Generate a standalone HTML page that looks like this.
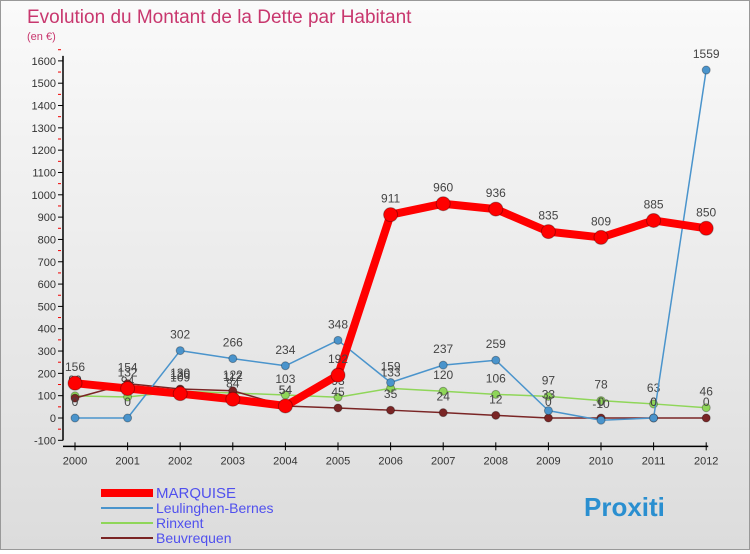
<!DOCTYPE html>
<html><head><meta charset="utf-8"><style>
body{margin:0;width:750px;height:550px;overflow:hidden;font-family:"Liberation Sans",sans-serif}
#wrap{position:relative;width:748px;height:548px;border:1px solid #999;background:linear-gradient(#fafafa,#dcdcdc)}
</style></head><body>
<div id="wrap">
<svg id="c" width="748" height="548" xmlns="http://www.w3.org/2000/svg">
<text x="26" y="22" font-size="19" fill="#c8376e">Evolution du Montant de la Dette par Habitant</text>
<text x="26" y="39" font-size="11" fill="#c8376e">(en €)</text>
</svg>
</div>
<script>
const years=["2000","2001","2002","2003","2004","2005","2006","2007","2008","2009","2010","2011","2012"];
const yTicks=[-100,0,100,200,300,400,500,600,700,800,900,1000,1100,1200,1300,1400,1500,1600];
const marquise=[156,132,109,84,54,192,911,960,936,835,809,885,850];
const leulinghen=[0,0,302,266,234,348,159,237,259,33,-10,0,1559];
const rinxent=[99,94,120,112,103,93,133,120,106,97,78,63,46];
const beuvrequen=[89,154,130,122,54,45,35,24,12,0,0,0,0];
const svg=document.getElementById('c');
const NS='http://www.w3.org/2000/svg';
const X=i=>74+i*52.6, Y=v=>417-v*0.2232;
function mk(t,a,p){const e=document.createElementNS(NS,t);for(const k in a)e.setAttribute(k,a[k]);(p||svg).appendChild(e);return e;}
let ax=mk('line',{x1:62,y1:Y(-100),x2:62,y2:Y(1600)-5,stroke:'#000','stroke-width':1.5});


let bx=mk('line',{x1:62,y1:Y(-100)+6,x2:X(12)+2,y2:Y(-100)+6,stroke:'#000','stroke-width':1.5});


yTicks.forEach(v=>{mk('line',{x1:57,y1:Y(v),x2:62,y2:Y(v),stroke:'#000'});
mk('line',{x1:57,y1:Y(v+50),x2:60,y2:Y(v+50),stroke:'#e00'});
const t=mk('text',{x:55,y:Y(v)+4,'font-size':11,'text-anchor':'end',fill:'#333'});t.textContent=v;

});
years.forEach((y,i)=>{mk('line',{x1:X(i),y1:Y(-100)+2,x2:X(i),y2:Y(-100)+10,stroke:'#000'});
const t=mk('text',{x:X(i),y:Y(-100)+24,'font-size':11,'text-anchor':'middle',fill:'#333'});t.textContent=y;

});
function series(d,col,w,r,name){const g=mk('g',{});


mk('polyline',{points:d.map((v,i)=>X(i)+','+Y(v)).join(' '),fill:'none',stroke:col,'stroke-width':w,'stroke-linejoin':'round'},g);
d.forEach((v,i)=>{const c=mk('circle',{cx:X(i),cy:Y(v),r:r,fill:col,stroke:'rgba(0,0,0,0.3)'},g);


const t=mk('text',{x:X(i),y:Y(v)-12,'font-size':12,'text-anchor':'middle',fill:'#444'},g);t.textContent=v;});}
series(rinxent,'#8fd659',1.5,4,'rinxent-series');
series(beuvrequen,'#7a2525',1.5,4,'beuvrequen-series');
series(leulinghen,'#4a94cc',1.5,4,'leulinghen-series');
series(marquise,'#f00',8,7,'marquise-series');
const leg=[['MARQUISE','#f00',8],['Leulinghen-Bernes','#4a94cc',2],['Rinxent','#8fd659',2],['Beuvrequen','#7a2525',2]];
leg.forEach((l,i)=>{const g=mk('g',{});


const y=492+i*15;mk('line',{x1:100,y1:y,x2:152,y2:y,stroke:l[1],'stroke-width':l[2]},g);
const t=mk('text',{x:155,y:y+5,'font-size':l[2]>2?15:14,fill:'#5050ee'},g);t.textContent=l[0];});
const lg=mk('text',{x:583,y:515,'font-size':26,'font-weight':'bold',fill:'#2a8fd0'});lg.textContent='Proxiti';


</script>
</body></html>
